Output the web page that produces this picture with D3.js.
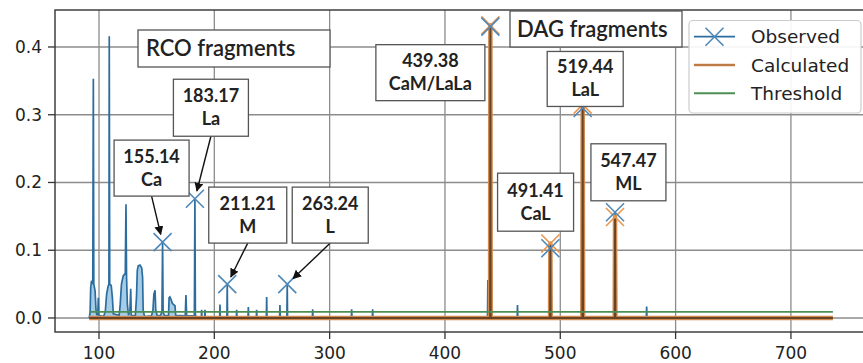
<!DOCTYPE html>
<html>
<head>
<meta charset="utf-8">
<script src="https://cdn.jsdelivr.net/npm/d3@7"></script>
<style>
  body { margin: 0; background: #fff; }
  svg { display: block; }
</style>
</head>
<body>
<svg width="863" height="363"></svg>
<script>
const svg = d3.select('svg');

// observed spectrum profile: [m/z, intensity]
const observed = [
  [91.5, 0], [92.3, 0.008], [92.8, 0.045], [93.6, 0.055], [94.6, 0.05], [95.1, 0.353], [95.5, 0.05],
  [96.6, 0.04], [97.4, 0.012], [98.2, 0.004], [99.0, 0.008], [99.4, 0.03], [99.8, 0.004],
  [104.0, 0.002], [105.5, 0.01], [106.6, 0.035], [107.8, 0.046], [108.6, 0.05], [108.9, 0.416],
  [109.3, 0.05], [110.6, 0.048], [111.6, 0.03], [112.4, 0.006],
  [117.5, 0.004], [118.4, 0.02], [119.5, 0.05], [121.0, 0.062], [122.8, 0.066], [123.4, 0.168],
  [123.9, 0.06], [124.6, 0.02], [125.6, 0.004], [126.8, 0.01], [127.5, 0.043], [128.0, 0.004],
  [131.5, 0.003], [132.5, 0.03], [133.2, 0.07], [134.0, 0.077], [135.5, 0.078], [137.0, 0.074],
  [137.8, 0.06], [138.3, 0.012], [139.5, 0.002],
  [145.5, 0.003], [146.8, 0.012], [147.6, 0.035], [148.6, 0.041], [149.2, 0.012], [150.5, 0.003],
  [153.5, 0.004], [154.6, 0.01], [155.14, 0.112], [155.6, 0.008], [157.0, 0.003],
  [160.3, 0.004], [160.8, 0.03], [161.5, 0.031], [162.6, 0.027], [163.5, 0.022], [164.5, 0.02],
  [165.9, 0.018], [166.5, 0.004],
  [174.8, 0.003], [175.4, 0.034], [176.0, 0.003],
  [182.7, 0.003], [183.17, 0.176], [183.6, 0.003],
  [188.7, 0], [189.0, 0.012], [189.3, 0], [191.6, 0], [191.9, 0.012], [192.2, 0],
  [204.6, 0], [204.9, 0.02], [205.2, 0],
  [210.9, 0], [211.21, 0.05], [211.5, 0],
  [219.1, 0], [219.4, 0.012], [219.7, 0],
  [229.2, 0], [229.5, 0.016], [229.8, 0],
  [236.4, 0], [236.7, 0.012], [237.0, 0],
  [245.1, 0], [245.4, 0.031], [245.7, 0],
  [256.6, 0], [256.9, 0.019], [257.2, 0],
  [262.9, 0], [263.24, 0.05], [263.5, 0],
  [285.0, 0], [285.3, 0.013], [285.6, 0],
  [318.8, 0], [319.1, 0.013], [319.4, 0],
  [337.0, 0], [337.3, 0.013], [337.6, 0],
  [436.9, 0], [437.2, 0.056], [437.5, 0],
  [439.1, 0], [439.38, 0.43], [439.7, 0],
  [462.6, 0], [462.9, 0.019], [463.2, 0],
  [491.1, 0], [491.41, 0.103], [491.7, 0],
  [519.1, 0], [519.44, 0.31], [519.8, 0],
  [547.2, 0], [547.47, 0.156], [547.8, 0],
  [574.6, 0], [574.9, 0.017], [575.2, 0],
  [736.4, 0]
];

// calculated DAG fragment profile
const calculated = [
  [91.5, 0],
  [439.1, 0], [439.38, 0.432], [439.7, 0],
  [491.1, 0], [491.41, 0.11], [491.7, 0],
  [519.1, 0], [519.44, 0.315], [519.8, 0],
  [547.2, 0], [547.47, 0.149], [547.8, 0],
  [736.4, 0]
];

const threshold = [[92, 0.009], [736.4, 0.009]];

// picked peaks (marked with x)
const obsPicks = [
  [155.14, 0.112], [183.17, 0.176], [211.21, 0.05], [263.24, 0.05],
  [439.38, 0.43], [491.41, 0.103], [519.44, 0.31], [547.47, 0.156]
];
const calcPicks = [[439.38, 0.432], [491.41, 0.11], [519.44, 0.315], [547.47, 0.149]];

// annotation labels
const annoMz = [155.14, 183.17, 211.21, 263.24, 439.38, 491.41, 519.44, 547.47];
const annoName = ['Ca', 'La', 'M', 'L', 'CaM/LaLa', 'CaL', 'LaL', 'ML'];
const annoInt = [0.112, 0.176, 0.05, 0.05, 0.43, 0.103, 0.31, 0.156];

const groupTitles = ['RCO fragments', 'DAG fragments'];

const xTicks = [100, 200, 300, 400, 500, 600, 700];
const yTicks = [0.0, 0.1, 0.2, 0.3, 0.4];

// layout: box centre offset from the marked point (px), box size, arrow?
const annoLayout = [
  { dx: -11, dy: -74, w: 75, h: 56, arrow: true },
  { dx: 16, dy: -91, w: 75, h: 57, arrow: true },
  { dx: 20.5, dy: -69, w: 78, h: 56, arrow: true },
  { dx: 43, dy: -69, w: 76, h: 56, arrow: true },
  { dx: -60, dy: 46, w: 109, h: 56, arrow: false },
  { dx: -14.8, dy: -46, w: 76, h: 58, arrow: false },
  { dx: 2.5, dy: -29, w: 76, h: 55, arrow: false },
  { dx: 13.4, dy: -40, w: 75, h: 57, arrow: false }
];
const titleLayout = [
  { x: 138, y: 30, w: 192, h: 37, tx: 146 },
  { x: 510, y: 11, w: 172, h: 36, tx: 517 }
];

const margin = { left: 55, top: 10, right: 866, bottom: 332 };

const x = d3.scaleLinear().domain([61.85, 765.1]).range([margin.left, margin.right]);
const y = d3.scaleLinear().domain([-0.0207, 0.4546]).range([margin.bottom, margin.top]);

const plot = svg.append('g');

// grid
plot.selectAll('.vgrid').data(xTicks).enter().append('line')
  .attr('x1', d => x(d)).attr('x2', d => x(d))
  .attr('y1', margin.top).attr('y2', margin.bottom)
  .attr('stroke', '#8c8c8c').attr('stroke-width', 1.3);
plot.selectAll('.hgrid').data(yTicks).enter().append('line')
  .attr('x1', margin.left).attr('x2', margin.right)
  .attr('y1', d => y(d)).attr('y2', d => y(d))
  .attr('stroke', '#8c8c8c').attr('stroke-width', 1.3);

const line = d3.line().x(d => x(d[0])).y(d => y(d[1]));
const area = d3.area().x(d => x(d[0])).y0(y(0)).y1(d => y(d[1]));

// observed
plot.append('path').datum(observed).attr('d', area)
  .attr('fill', '#a6cde8').attr('stroke', 'none');
plot.append('path').datum(observed).attr('d', line)
  .attr('fill', 'none').attr('stroke', '#2c6d9f').attr('stroke-width', 1.7);

// calculated
plot.append('path').datum(calculated).attr('d', line)
  .attr('fill', 'none').attr('stroke', '#cf8b52').attr('stroke-width', 4.5)
  .attr('stroke-linejoin', 'round');
plot.append('path').datum(calculated).attr('d', line)
  .attr('fill', 'none').attr('stroke', '#684324').attr('stroke-width', 1.8);

// threshold
plot.append('path').datum(threshold).attr('d', line)
  .attr('fill', 'none').attr('stroke', '#4b8f55').attr('stroke-width', 1.6);

// markers
function xMarker(sel, color, size) {
  const s = size / 2;
  sel.append('path')
    .attr('d', `M${-s},${-s}L${s},${s}M${-s},${s}L${s},${-s}`)
    .attr('stroke', color).attr('stroke-width', 1.6).attr('fill', 'none');
}
plot.selectAll('.cm').data(calcPicks).enter().append('g')
  .attr('transform', d => `translate(${x(d[0])},${y(d[1])})`)
  .call(xMarker, '#e8964f', 18);
plot.selectAll('.om').data(obsPicks).enter().append('g')
  .attr('transform', d => `translate(${x(d[0])},${y(d[1])})`)
  .call(xMarker, '#4f88b8', 18);

// frame
svg.append('rect')
  .attr('x', margin.left).attr('y', margin.top)
  .attr('width', margin.right - margin.left).attr('height', margin.bottom - margin.top)
  .attr('fill', 'none').attr('stroke', '#333').attr('stroke-width', 1.4);

// axes ticks
svg.selectAll('.xt').data(xTicks).enter().append('line')
  .attr('x1', d => x(d)).attr('x2', d => x(d))
  .attr('y1', margin.bottom).attr('y2', margin.bottom + 7)
  .attr('stroke', '#333').attr('stroke-width', 1.3);
svg.selectAll('.xl').data(xTicks).enter().append('text')
  .attr('x', d => x(d)).attr('y', 359)
  .attr('text-anchor', 'middle')
  .attr('font-family', 'DejaVu Sans').attr('font-size', 17).attr('fill', '#222')
  .text(d => d);
svg.selectAll('.yt').data(yTicks).enter().append('line')
  .attr('x1', margin.left - 7).attr('x2', margin.left)
  .attr('y1', d => y(d)).attr('y2', d => y(d))
  .attr('stroke', '#333').attr('stroke-width', 1.3);
svg.selectAll('.yl').data(yTicks).enter().append('text')
  .attr('x', 42).attr('y', d => y(d) + 6)
  .attr('text-anchor', 'end')
  .attr('font-family', 'DejaVu Sans').attr('font-size', 17).attr('fill', '#222')
  .text(d => d.toFixed(1));

// arrow head
svg.append('defs').append('marker')
  .attr('id', 'arr').attr('viewBox', '0 0 10 10')
  .attr('refX', 9).attr('refY', 5)
  .attr('markerWidth', 9).attr('markerHeight', 9)
  .attr('markerUnits', 'userSpaceOnUse')
  .attr('orient', 'auto')
  .append('path').attr('d', 'M0,0L10,5L0,10z').attr('fill', '#111');

// annotations
const annoFont = 'Lato, "Open Sans", sans-serif';
annoMz.forEach((mz, i) => {
  const L = annoLayout[i];
  const px = x(mz), py = y(annoInt[i]);
  const cx = px + L.dx, cy = py + L.dy;
  if (L.arrow) {
    const x0 = cx, y0 = cy + L.h / 2;
    const len = Math.hypot(px - x0, py - y0);
    const ux = (px - x0) / len, uy = (py - y0) / len;
    svg.append('line')
      .attr('x1', x0).attr('y1', y0)
      .attr('x2', px - ux * 8).attr('y2', py - uy * 8)
      .attr('stroke', '#111').attr('stroke-width', 1.4)
      .attr('marker-end', 'url(#arr)');
  }
  svg.append('rect')
    .attr('x', cx - L.w / 2).attr('y', cy - L.h / 2)
    .attr('width', L.w).attr('height', L.h)
    .attr('fill', '#fff').attr('stroke', '#555').attr('stroke-width', 1.3);
  const t = svg.append('text')
    .attr('text-anchor', 'middle')
    .attr('font-family', annoFont).attr('font-weight', 'bold')
    .attr('font-size', 18).attr('fill', '#222');
  t.append('tspan').attr('x', cx).attr('y', cy - 5.5).text(mz.toFixed(2));
  t.append('tspan').attr('x', cx).attr('y', cy + 17.5).text(annoName[i]);
});

groupTitles.forEach((g, i) => {
  const L = titleLayout[i];
  svg.append('rect')
    .attr('x', L.x).attr('y', L.y).attr('width', L.w).attr('height', L.h)
    .attr('fill', '#fff').attr('stroke', '#555').attr('stroke-width', 1.3);
  svg.append('text')
    .attr('x', L.tx).attr('y', L.y + L.h / 2 + 7.5)
    .attr('font-family', annoFont).attr('font-weight', 600)
    .attr('font-size', 22).attr('fill', '#222')
    .text(g);
});

// legend
const legendNames = ['Observed', 'Calculated', 'Threshold'];
const lg = svg.append('g');
lg.append('rect')
  .attr('x', 689).attr('y', 20.5).attr('width', 172).attr('height', 92.5)
  .attr('rx', 4).attr('fill', '#fff').attr('fill-opacity', 0.9)
  .attr('stroke', '#cccccc').attr('stroke-width', 1.2);
legendNames.forEach((name, i) => {
  const ly = 36.7 + i * 28.3;
  if (i === 0) {
    lg.append('line').attr('x1', 694).attr('x2', 735).attr('y1', ly).attr('y2', ly)
      .attr('stroke', '#2c6d9f').attr('stroke-width', 1.7);
    lg.append('g').attr('transform', `translate(714.5,${ly})`).call(xMarker, '#4f88b8', 18);
  } else if (i === 1) {
    lg.append('line').attr('x1', 694).attr('x2', 735).attr('y1', ly).attr('y2', ly)
      .attr('stroke', '#d08a50').attr('stroke-width', 2.6);
    lg.append('line').attr('x1', 694).attr('x2', 735).attr('y1', ly).attr('y2', ly)
      .attr('stroke', '#a8693a').attr('stroke-width', 0.9);
  } else {
    lg.append('line').attr('x1', 694).attr('x2', 735).attr('y1', ly).attr('y2', ly)
      .attr('stroke', '#4b8f55').attr('stroke-width', 2);
  }
  lg.append('text').attr('x', 751).attr('y', ly + 6.5)
    .attr('font-family', 'DejaVu Sans').attr('font-size', 18.5).attr('fill', '#222')
    .text(name);
});
</script>
</body>
</html>
